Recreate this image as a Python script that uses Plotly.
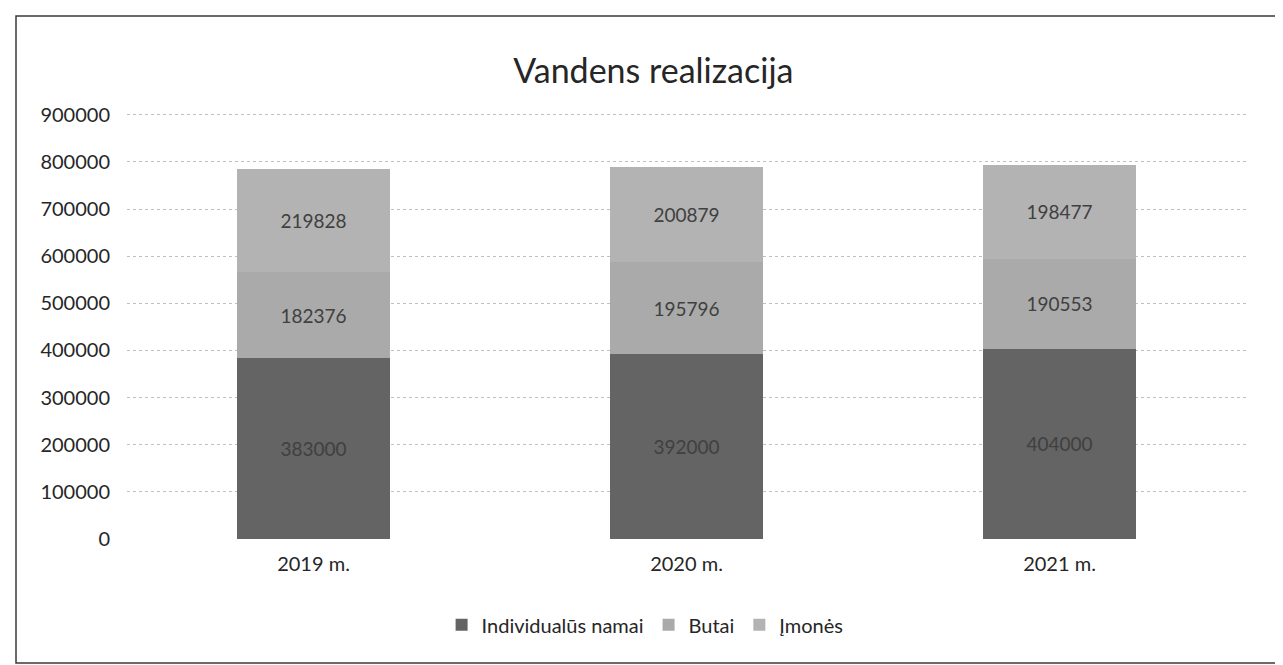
import plotly.graph_objects as go

categories = ["2019 m.", "2020 m.", "2021 m."]
individualus_namai = [383000, 392000, 404000]
butai = [182376, 195796, 190553]
imones = [219828, 200879, 198477]
y_ticks = [0, 100000, 200000, 300000, 400000, 500000, 600000, 700000, 800000, 900000]

series = [
    ("Individualūs namai", individualus_namai, "#646464"),
    ("Butai", butai, "#aaaaaa"),
    ("Įmonės", imones, "#b3b3b3"),
]

FONT = "Lato, Liberation Sans, sans-serif"

fig = go.Figure()
for name, vals, col in series:
    fig.add_trace(go.Bar(
        x=categories, y=vals, name=name,
        marker=dict(color=col, line=dict(width=0)),
        text=vals, texttemplate="%{text}", textposition="inside",
        insidetextanchor="middle",
        textfont=dict(color="#404040", size=19, family=FONT),
    ))

L, R, T, B = 119, 45, 102, 134
W, H = 1283, 665
pw, ph = W - L - R, H - T - B

fig.update_layout(
    barmode="stack",
    bargap=0.59,
    width=W, height=H,
    margin=dict(l=L, r=R, t=T, b=B),
    paper_bgcolor="white", plot_bgcolor="white",
    font=dict(family=FONT, color="#404040", size=19),
    title=dict(text="Vandens realizacija", x=0.503, xanchor="center", y=0.905, yanchor="middle",
               font=dict(size=34, color="#262626")),
    legend=dict(orientation="h", x=0.463, xanchor="center", y=-0.2, yanchor="middle",
                font=dict(size=20, color="#262626"), traceorder="normal", itemwidth=30),
    showlegend=True,
    xaxis=dict(showgrid=False, showline=False, ticks="", ticklabelstandoff=11,
               tickfont=dict(size=20, color="#262626")),
    yaxis=dict(range=[0, 910000], tickvals=y_ticks, showgrid=True, gridcolor="#bfbfbf",
               griddash="dot", gridwidth=1, zeroline=False, showline=False, ticks="",
               ticklabelstandoff=16, tickformat="d", tickfont=dict(size=20, color="#262626")),
    shapes=[dict(type="rect", xref="paper", yref="paper",
                 x0=(8 - L) / pw, x1=(1275 - L) / pw,
                 y0=(T + ph - 655) / ph, y1=(T + ph - 8) / ph,
                 line=dict(color="#3a3a3a", width=1.5), layer="below")],
)

fig.write_html("out.html")
